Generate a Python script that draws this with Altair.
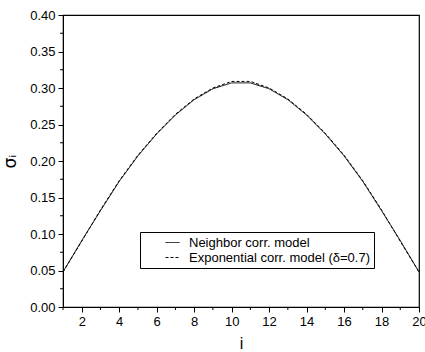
import altair as alt
import pandas as pd

idx = list(range(1, 21))
neighbor = [0.048, 0.091, 0.132, 0.172, 0.207, 0.237, 0.263, 0.284, 0.299, 0.307,
            0.307, 0.299, 0.284, 0.263, 0.237, 0.207, 0.172, 0.132, 0.091, 0.048]
exponential = [0.048, 0.090, 0.133, 0.173, 0.208, 0.238, 0.264, 0.285, 0.300, 0.309,
               0.309, 0.300, 0.285, 0.264, 0.238, 0.208, 0.173, 0.133, 0.090, 0.048]
series_names = ["Neighbor corr. model", "Exponential corr. model (\u03b4=0.7)"]
x_major = [2, 4, 6, 8, 10, 12, 14, 16, 18, 20]
x_minor = [1, 3, 5, 7, 9, 11, 13, 15, 17, 19]
y_major = [0.0, 0.05, 0.10, 0.15, 0.20, 0.25, 0.30, 0.35, 0.40]
y_minor = [0.025, 0.075, 0.125, 0.175, 0.225, 0.275, 0.325, 0.375]

rows = []
for k, name in enumerate(series_names):
    vals = neighbor if k == 0 else exponential
    for i, v in zip(idx, vals):
        rows.append({"i": i, "sigma": v, "series": name, "order": k})
df = pd.DataFrame(rows)

FONT = "Liberation Sans"
W, H = 356, 292

xs = alt.Scale(domain=[1, 20], nice=False, zero=False)
ys = alt.Scale(domain=[0, 0.4], nice=False)

x_axis = alt.Axis(values=x_major, title="i", titleFontSize=16, titleFont=FONT,
                  titleFontWeight="normal", titlePadding=7,
                  labelFontSize=13, labelFont=FONT, tickSize=5, labelPadding=3,
                  grid=False, domainColor="black", tickColor="black",
                  labelColor="black", titleColor="black", labelFlush=False,
                  labelOverlap=False, labelBound=False)
y_axis = alt.Axis(values=y_major, format=".2f", title="\u03c3\u1d62",
                  titleFontSize=17, titleFont="DejaVu Sans", titleFontWeight="normal",
                  titlePadding=10, labelFontSize=13, labelFont=FONT, tickSize=5,
                  labelPadding=3, grid=False, domainColor="black", tickColor="black",
                  labelColor="black", titleColor="black", labelOverlap=False,
                  labelFlush=False)

lines = alt.Chart(df).mark_line(strokeWidth=1, color="black").encode(
    x=alt.X("i:Q", scale=xs, axis=x_axis),
    y=alt.Y("sigma:Q", scale=ys, axis=y_axis),
    strokeDash=alt.StrokeDash("series:N",
                              scale=alt.Scale(domain=series_names, range=[[1, 0], [3, 2]]),
                              legend=alt.Legend(title=None, orient="none", legendX=77, legendY=217,
                                                strokeColor="black", fillColor="white",
                                                padding=3, labelFont=FONT, labelFontSize=13,
                                                labelColor="black", symbolType="M-1,0H1",
                                                symbolSize=196, symbolStrokeWidth=1,
                                                symbolStrokeColor="black",
                                                symbolFillColor="transparent", rowPadding=0,
                                                labelOffset=9, labelLimit=400,
                                                symbolOffset=22)),
    order=alt.Order("order:Q"),
)

xminor = alt.Chart(pd.DataFrame({"m": x_minor})).mark_rule(color="black", strokeWidth=1).encode(
    x=alt.X("m:Q", scale=xs, axis=x_axis, title="i"), y=alt.value(H), y2=alt.value(H + 3))
yminor = alt.Chart(pd.DataFrame({"m": y_minor})).mark_rule(color="black", strokeWidth=1).encode(
    y=alt.Y("m:Q", scale=ys, axis=y_axis, title="\u03c3\u1d62"), x=alt.value(0), x2=alt.value(-3))

chart = alt.layer(lines, xminor, yminor).properties(
    width=W, height=H,
    autosize=alt.AutoSizeParams(type="none"),
    padding={"left": 63, "top": 15, "right": 6, "bottom": 45},
    background="white",
).configure_view(stroke="black", strokeWidth=1.2)

chart.save("out.html", embed_options={"renderer": "svg", "actions": False})
